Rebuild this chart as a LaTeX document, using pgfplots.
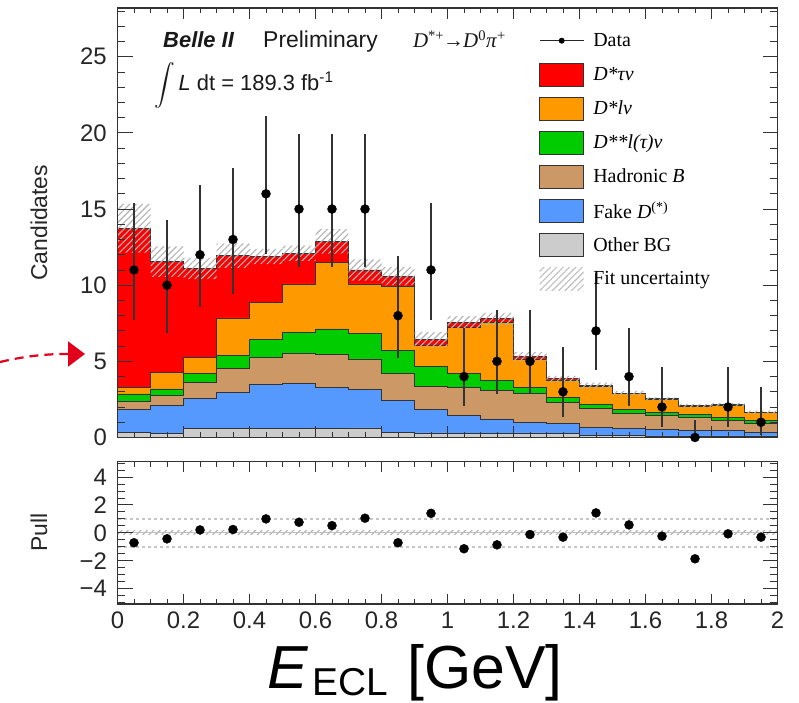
\documentclass[border=0pt]{standalone}
\usepackage{fontspec}
\setmainfont{Liberation Sans}
\newfontfamily\timesfont{Liberation Serif}
\usepackage{exscale}
\usepackage{pgfplots}
\pgfplotsset{compat=1.18}
\usepackage{pgfplotstable}
\usetikzlibrary{patterns.meta}

\definecolor{cRed}{HTML}{FF0000}
\definecolor{cOrange}{HTML}{FF9900}
\definecolor{cGreen}{HTML}{00CC00}
\definecolor{cBrown}{HTML}{CC9966}
\definecolor{cBlue}{HTML}{5599FF}
\definecolor{cGrey}{HTML}{CCCCCC}
\definecolor{annot}{HTML}{E3001B}
\definecolor{framec}{HTML}{333333}

% cumulative stack tops per bin (x = left bin edge), unc = fit uncertainty
\pgfplotstableread{
x    grey blue brown green orange total unc
0.0  0.35 1.85 2.38  2.86  3.30  13.74 1.60
0.1  0.25 2.10 2.76  3.19  4.29  11.55 1.00
0.2  0.57 2.54 3.63  4.18  5.23  11.10 0.70
0.3  0.57 2.97 4.51  5.38  7.85  11.94 0.80
0.4  0.60 3.48 5.27  6.41  8.88  11.88 0.50
0.5  0.57 3.52 5.53  6.91  10.08 12.09 0.50
0.6  0.57 3.30 5.45  7.13  11.50 12.88 0.80
0.7  0.63 3.13 5.16  6.84  10.08 11.00 0.70
0.8  0.35 2.43 4.22  5.71  9.91  10.58 0.60
0.9  0.30 1.82 3.38  4.64  6.07  6.44  0.50
1.0  0.24 1.44 3.30  4.18  7.24  7.57  0.40
1.1  0.24 1.22 3.08  3.74  7.57  7.79  0.40
1.2  0.30 1.01 2.87  3.30  5.16  5.31  0.30
1.3  0.25 0.90 2.32  2.65  3.78  3.85  0.20
1.4  0.15 0.68 1.88  2.17  3.35  3.41  0.20
1.5  0.12 0.57 1.55  1.82  2.87  2.91  0.15
1.6  0.10 0.50 1.44  1.66  2.50  2.54  0.10
1.7  0.10 0.46 1.29  1.51  2.06  2.10  0.10
1.8  0.10 0.46 1.11  1.33  2.13  2.17  0.10
1.9  0.10 0.35 0.90  1.09  1.62  1.66  0.10
2.0  0.10 0.35 0.90  1.09  1.62  1.66  0.10
}\stack

\pgfplotstableread{
x    y  up    dn    pull
0.05 11 4.416 3.266 -0.71
0.15 10 4.266 3.108 -0.43
0.25 12 4.559 3.416 0.21
0.35 13 4.697 3.559 0.24
0.45 16 5.083 3.957 1.00
0.55 15 4.958 3.829 0.76
0.65 15 4.958 3.829 0.52
0.75 15 4.958 3.829 1.05
0.85 8  3.945 2.768 -0.71
0.95 11 4.416 3.266 1.40
1.05 4  3.162 1.914 -1.14
1.15 5  3.382 2.159 -0.86
1.25 5  3.382 2.159 -0.12
1.35 3  2.918 1.633 -0.31
1.45 7  3.770 2.581 1.43
1.55 4  3.162 1.914 0.57
1.65 2  2.637 1.291 -0.24
1.75 0  1.150 0.000 -1.86
1.85 2  2.637 1.291 -0.07
1.95 1  2.299 0.827 -0.31
}\data

\tikzset{tk/.style={draw=framec, line width=0.9bp}}

\pgfplotsset{
  rootstyle/.style={
    scale only axis, width=660bp,
    xmin=0, xmax=2,
    axis on top,
    axis line style={line width=1.3bp, framec},
    major tick length=0bp, minor tick length=0bp,
    xtick={0,0.2,0.4,0.6,0.8,1,1.2,1.4,1.6,1.8,2},
    ticklabel style={font=\fontsize{24}{24}\selectfont, inner sep=0pt, text=black!85},
    yticklabel style={anchor=east, xshift=-10.5bp},
    xticklabel style={anchor=north, yshift=-8bp},
    label style={font=\fontsize{23}{23}\selectfont, text=black!85},
  },
  myhatch/.style={pattern={Lines[angle=45,distance=4.5bp,line width=1.1bp]}, pattern color=gray!60},
  histlayer/.style={const plot, fill=#1, draw=framec, line width=0.8bp, forget plot},
}

\begin{document}
\begin{tikzpicture}
% ---------------- main panel ----------------
\begin{axis}[rootstyle,
  at={(117.5bp,265.5bp)}, anchor=south west,
  height=429.5bp,
  ymin=0, ymax=28.2,
  xticklabels={},
  ytick={0,5,10,15,20,25}, yticklabels={0,5,10,15,20,25},
  ylabel={Candidates},
  ylabel style={at={(axis description cs:-0.119,0.5)}, anchor=center},
  clip=false,
  legend style={at={(axis cs:1.277,26.82)}, anchor=north west, draw=none, fill=none,
    inner sep=0pt, row sep=10.3bp, column sep=9bp,
    nodes={inner sep=0pt},
    font=\timesfont\fontsize{20}{20}\selectfont, cells={anchor=west}},
  legend cell align=left,
]
\addplot[histlayer=cRed]    table[x=x,y=total]{\stack} \closedcycle;
\addplot[histlayer=cOrange] table[x=x,y=orange]{\stack} \closedcycle;
\addplot[histlayer=cGreen]  table[x=x,y=green]{\stack} \closedcycle;
\addplot[histlayer=cBrown]  table[x=x,y=brown]{\stack} \closedcycle;
\addplot[histlayer=cBlue]   table[x=x,y=blue]{\stack} \closedcycle;
\addplot[histlayer=cGrey]   table[x=x,y=grey]{\stack} \closedcycle;

% fit uncertainty band: stacked (lower edge invisible, band width hatched)
\addplot[const plot, draw=none, fill=none, forget plot, stack plots=y] table[x=x, y expr=\thisrow{total}-\thisrow{unc}]{\stack};
\addplot[const plot, draw=none, myhatch, forget plot, stack plots=y] table[x=x, y expr=2*\thisrow{unc}]{\stack} \closedcycle;

\addplot[only marks, mark=*, mark size=4.5bp, black, forget plot,
  error bars/.cd, y dir=both, y explicit, error mark=none,
  error bar style={line width=1.2bp, black!80}]
  table[x=x, y=y, y error plus=up, y error minus=dn]{\data};

% axis ticks (inside, all four sides)
\pgfplotsinvokeforeach{0.05,0.1,...,1.96}{\draw[tk] (axis cs:#1,0) -- ([yshift=5.5bp]axis cs:#1,0); \draw[tk] (axis cs:#1,28.2) -- ([yshift=-5.5bp]axis cs:#1,28.2);}
\pgfplotsinvokeforeach{0.2,0.4,...,1.81}{\draw[tk] (axis cs:#1,0) -- ([yshift=11bp]axis cs:#1,0); \draw[tk] (axis cs:#1,28.2) -- ([yshift=-11bp]axis cs:#1,28.2);}
\pgfplotsinvokeforeach{1,2,...,28}{\draw[tk] (axis cs:0,#1) -- ([xshift=7.5bp]axis cs:0,#1); \draw[tk] (axis cs:2,#1) -- ([xshift=-7.5bp]axis cs:2,#1);}
\pgfplotsinvokeforeach{5,10,...,25}{\draw[tk] (axis cs:0,#1) -- ([xshift=15bp]axis cs:0,#1); \draw[tk] (axis cs:2,#1) -- ([xshift=-15bp]axis cs:2,#1);}

\addlegendimage{legend image code/.code={\path[draw=none,fill=none] (0bp,-11.5bp) rectangle (44bp,11.5bp); \draw[black!85, line width=1.2bp] (0bp,0bp) -- (44bp,0bp); \fill[black, draw=none] (22bp,0bp) circle (3bp);}}
\addlegendentry{Data}
\addlegendimage{legend image code/.code={\draw[fill=cRed, draw=framec, line width=0.8bp] (0bp,-11.5bp) rectangle (44bp,11.5bp);}}
\addlegendentry{\itshape D*τν}
\addlegendimage{legend image code/.code={\draw[fill=cOrange, draw=framec, line width=0.8bp] (0bp,-11.5bp) rectangle (44bp,11.5bp);}}
\addlegendentry{\itshape D*lν}
\addlegendimage{legend image code/.code={\draw[fill=cGreen, draw=framec, line width=0.8bp] (0bp,-11.5bp) rectangle (44bp,11.5bp);}}
\addlegendentry{\itshape D**l(τ)ν}
\addlegendimage{legend image code/.code={\draw[fill=cBrown, draw=framec, line width=0.8bp] (0bp,-11.5bp) rectangle (44bp,11.5bp);}}
\addlegendentry{Hadronic \textit{B}}
\addlegendimage{legend image code/.code={\draw[fill=cBlue, draw=framec, line width=0.8bp] (0bp,-11.5bp) rectangle (44bp,11.5bp);}}
\addlegendentry{Fake \textit{D}\textsuperscript{(*)}}
\addlegendimage{legend image code/.code={\draw[fill=cGrey, draw=framec, line width=0.8bp] (0bp,-11.5bp) rectangle (44bp,11.5bp);}}
\addlegendentry{Other BG}
\addlegendimage{legend image code/.code={\path[draw=none, pattern={Lines[angle=45,distance=4.5bp,line width=1.1bp]}, pattern color=gray!50] (0bp,-11.5bp) rectangle (44bp,11.5bp);}}
\addlegendentry{Fit uncertainty}

\node[anchor=base west, inner sep=0pt, text=black!90] at (axis cs:0.138,25.63)
  {\fontsize{22}{22}\selectfont\bfseries\itshape Belle II};
\node[anchor=base west, inner sep=0pt, text=black!90] at (axis cs:0.441,25.63)
  {\fontsize{23}{23}\selectfont Preliminary};
\node[anchor=base west, inner sep=0pt, text=black!90] at (axis cs:0.113,22.79)
  {\fontsize{20}{20}\selectfont$\displaystyle\int$\kern3bp\fontsize{22}{22}\selectfont\textit{L} dt = 189.3 fb\textsuperscript{-1}};
\node[anchor=base west, inner sep=0pt, text=black!90] at (axis cs:0.895,25.6)
  {\timesfont\fontsize{21}{21}\selectfont\textit{D}\textsuperscript{*+}\kern-1bp→\kern-1bp\textit{D}\textsuperscript{0}\textit{π}\textsuperscript{+}};
\end{axis}

% ---------------- pull panel ----------------
\begin{axis}[rootstyle,
  at={(117.5bp,99bp)}, anchor=south west,
  height=142.3bp,
  ymin=-5.1, ymax=5.1,
  xticklabels={0,0.2,0.4,0.6,0.8,1,1.2,1.4,1.6,1.8,2},
  ytick={-4,-2,0,2,4}, yticklabels={−4,−2,0,2,4},
  ylabel={Pull},
  ylabel style={at={(axis description cs:-0.119,0.5)}, anchor=center},
  clip=false,
]
\addplot[myhatch, draw=none, forget plot] coordinates {(0,0.15) (2,0.15)} \closedcycle;
\addplot[myhatch, draw=none, forget plot] coordinates {(0,-0.15) (2,-0.15)} \closedcycle;
\addplot[gray!50, line width=1bp, forget plot] coordinates {(0,0) (2,0)};
\addplot[gray!45, line width=1.4bp, dash pattern=on 3bp off 3bp, forget plot] coordinates {(0,1) (2,1)};
\addplot[gray!45, line width=1.4bp, dash pattern=on 3bp off 3bp, forget plot] coordinates {(0,-1) (2,-1)};
\addplot[only marks, mark=*, mark size=4.5bp, black] table[x=x, y=pull]{\data};

\pgfplotsinvokeforeach{0.05,0.1,...,1.96}{\draw[tk] (axis cs:#1,-5.1) -- ([yshift=5bp]axis cs:#1,-5.1); \draw[tk] (axis cs:#1,5.1) -- ([yshift=-5bp]axis cs:#1,5.1);}
\pgfplotsinvokeforeach{0.2,0.4,...,1.81}{\draw[tk] (axis cs:#1,-5.1) -- ([yshift=10bp]axis cs:#1,-5.1); \draw[tk] (axis cs:#1,5.1) -- ([yshift=-10bp]axis cs:#1,5.1);}
\pgfplotsinvokeforeach{-5,-4.5,...,5.01}{\draw[tk] (axis cs:0,#1) -- ([xshift=7.5bp]axis cs:0,#1); \draw[tk] (axis cs:2,#1) -- ([xshift=-7.5bp]axis cs:2,#1);}
\pgfplotsinvokeforeach{-4,-2,...,4.01}{\draw[tk] (axis cs:0,#1) -- ([xshift=15bp]axis cs:0,#1); \draw[tk] (axis cs:2,#1) -- ([xshift=-15bp]axis cs:2,#1);}

\node[anchor=base west, inner sep=0pt, text=black] at (axis description cs:0.2265,-0.597)
  {\fontsize{61}{61}\selectfont\itshape E};
\node[anchor=base west, inner sep=0pt, text=black] at (axis description cs:0.2955,-0.645)
  {\fontsize{39}{39}\selectfont ECL};
\node[anchor=base west, inner sep=0pt, text=black] at (axis description cs:0.4386,-0.597)
  {\fontsize{61}{61}\selectfont [GeV]};
\end{axis}

\draw[annot, line width=2.2bp, dash pattern=on 9bp off 6bp] (0bp,341bp) .. controls (30bp,348bp) and (50bp,349bp) .. (68bp,349bp);
\fill[annot] (68bp,336.3bp) -- (85bp,349bp) -- (68bp,361.7bp) -- cycle;

\pgfresetboundingbox
\useasboundingbox (0bp,0bp) rectangle (799bp,703bp);
\end{tikzpicture}
\end{document}
